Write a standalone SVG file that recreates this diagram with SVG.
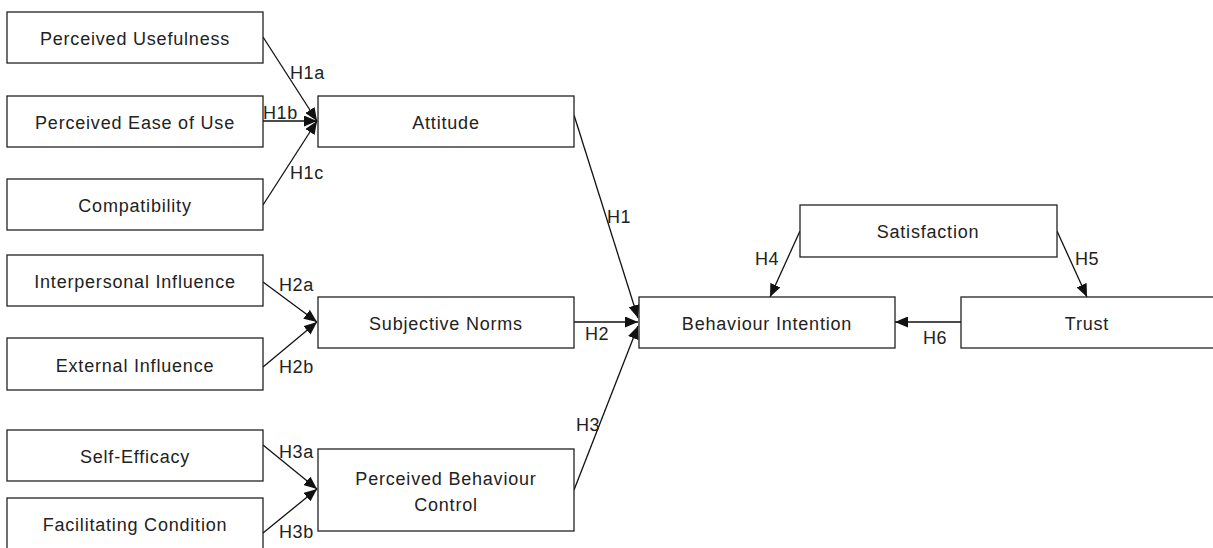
<svg xmlns="http://www.w3.org/2000/svg" width="1213" height="548" viewBox="0 0 1213 548">
<style>
.box{fill:#fff;stroke:#222;stroke-width:1.3}
.t{font-family:"Liberation Sans",Arial,sans-serif;font-size:18px;letter-spacing:0.8px;fill:#222;text-anchor:middle}
.l{font-family:"Liberation Sans",Arial,sans-serif;font-size:18px;letter-spacing:0.6px;fill:#222}
.c{stroke:#111;stroke-width:1.3;fill:none;marker-end:url(#ah)}
</style>
<defs>
<marker id="ah" viewBox="0 0 13 11" refX="13" refY="5.5" markerWidth="13" markerHeight="11" markerUnits="userSpaceOnUse" orient="auto">
<path d="M0,0 L13,5.5 L0,11 Z" fill="#111"/>
</marker>
</defs>
<rect width="1213" height="548" fill="#fff"/>
<g id="connectors">
<line class="c" x1="263" y1="37" x2="317" y2="121"/>
<line class="c" x1="263" y1="121" x2="317" y2="121"/>
<line class="c" x1="263" y1="205" x2="317" y2="121"/>
<line class="c" x1="263" y1="282" x2="317" y2="322"/>
<line class="c" x1="263" y1="367" x2="317" y2="322"/>
<line class="c" x1="263" y1="445" x2="317" y2="489"/>
<line class="c" x1="263" y1="533" x2="317" y2="489"/>
<line class="c" x1="574" y1="115" x2="638" y2="318"/>
<line class="c" x1="574" y1="322" x2="638" y2="322"/>
<line class="c" x1="574" y1="490" x2="638" y2="326"/>
<line class="c" x1="800" y1="231" x2="770" y2="297"/>
<line class="c" x1="1057" y1="231" x2="1087" y2="297"/>
<line class="c" x1="961" y1="322" x2="895" y2="322"/>
<text class="l" x="290" y="79">H1a</text>
<text class="l" x="263" y="119">H1b</text>
<text class="l" x="290" y="179">H1c</text>
<text class="l" x="279" y="291">H2a</text>
<text class="l" x="279" y="373">H2b</text>
<text class="l" x="279" y="458">H3a</text>
<text class="l" x="279" y="538">H3b</text>
<text class="l" x="607" y="223">H1</text>
<text class="l" x="585" y="340">H2</text>
<text class="l" x="576" y="431">H3</text>
<text class="l" x="755" y="265">H4</text>
<text class="l" x="1075" y="265">H5</text>
<text class="l" x="923" y="344">H6</text>
</g>
<g id="pu"><rect class="box" x="7" y="12" width="256" height="51"/><text class="t" x="135" y="45">Perceived Usefulness</text></g>
<g id="peu"><rect class="box" x="7" y="96" width="256" height="51"/><text class="t" x="135" y="129">Perceived Ease of Use</text></g>
<g id="comp"><rect class="box" x="7" y="179" width="256" height="51"/><text class="t" x="135" y="212">Compatibility</text></g>
<g id="ii"><rect class="box" x="7" y="255" width="256" height="51"/><text class="t" x="135" y="288">Interpersonal Influence</text></g>
<g id="ei"><rect class="box" x="7" y="338" width="256" height="52"/><text class="t" x="135" y="372">External Influence</text></g>
<g id="se"><rect class="box" x="7" y="430" width="256" height="51"/><text class="t" x="135" y="463">Self-Efficacy</text></g>
<g id="fc"><rect class="box" x="7" y="498" width="256" height="52"/><text class="t" x="135" y="531">Facilitating Condition</text></g>
<g id="att"><rect class="box" x="318" y="96" width="256" height="51"/><text class="t" x="446" y="129">Attitude</text></g>
<g id="sn"><rect class="box" x="318" y="297" width="256" height="51"/><text class="t" x="446" y="330">Subjective Norms</text></g>
<g id="pbc"><rect class="box" x="318" y="449" width="256" height="82"/><text class="t" x="446" y="485">Perceived Behaviour</text><text class="t" x="446" y="511">Control</text></g>
<g id="bi"><rect class="box" x="639" y="297" width="256" height="51"/><text class="t" x="767" y="330">Behaviour Intention</text></g>
<g id="sat"><rect class="box" x="800" y="205" width="257" height="52"/><text class="t" x="928" y="238">Satisfaction</text></g>
<g id="trust"><rect class="box" x="961" y="297" width="256" height="51"/><text class="t" x="1087" y="330">Trust</text></g>
</svg>
